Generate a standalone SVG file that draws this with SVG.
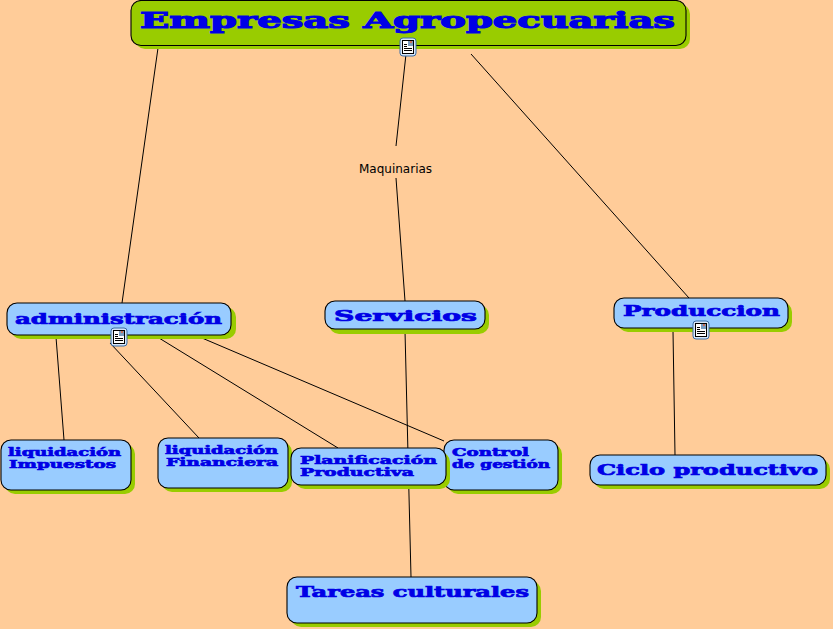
<svg xmlns="http://www.w3.org/2000/svg" width="833" height="629" viewBox="0 0 833 629">
<style>
.s{fill:#99cc00}
.b{fill:#99ccff;stroke:#000;stroke-width:1.1}
.t{fill:#0000e6;font-family:"DejaVu Serif",serif;font-weight:bold;stroke:#0000e6;stroke-width:.7}
.m{font-size:10.200px;stroke-width:.6}
.c{fill:none;stroke:#000;stroke-width:1}
.l{font-family:"DejaVu Sans",sans-serif;font-size:12px;fill:#000}
</style>
<defs>
<g id="icon">
<rect x="0" y="0" width="16" height="18" rx="3" fill="#d6e6f8" stroke="#3b6ea8"/>
<rect x="2.500" y="2.500" width="11" height="13" fill="#fff" stroke="#000"/>
<path d="M4 6.500h3M4 8.500h3M4 10.500h8M4 12.500h8" stroke="#000" stroke-width="1" fill="none"/>
<rect x="8" y="3" width="5" height="5" fill="#7a9cc0"/>
<rect x="10" y="3" width="2" height="2" fill="#c9705a"/>
</g>
</defs>
<rect width="833" height="629" fill="#ffcc99"/>
<g id="connectors">
<path class="c" d="M158 48L122 303"/>
<path class="c" d="M406 54L396 146"/>
<path class="c" d="M396 178L405 301"/>
<path class="c" d="M471 54L689 298"/>
<path class="c" d="M56 337L64 440"/>
<path class="c" d="M110 343L199 438"/>
<path class="c" d="M159 338L338 448"/>
<path class="c" d="M202 338L444 441"/>
<path class="c" d="M405 331L411 577"/>
<path class="c" d="M673 331L675 455"/>
</g>
<g id="node-empresas">
<rect class="s" x="135" y="4" width="555" height="45" rx="10"/>
<rect class="b" style="fill:#99cc00" x="131" y="0.500" width="555" height="45" rx="10"/>
<text class="t" x="140" y="28" font-size="22" stroke-width="1" style="stroke-width:1.100px" textLength="535" lengthAdjust="spacingAndGlyphs">Empresas Agropecuarias</text>
<use href="#icon" x="400" y="38"/>
</g>
<g id="node-maquinarias">
<text class="l" x="359" y="173">Maquinarias</text>
</g>
<g id="node-administracion">
<rect class="s" x="11" y="307" width="225" height="32" rx="10"/>
<rect class="b" x="7" y="303" width="224" height="32" rx="10"/>
<text class="t" x="15" y="324" font-size="15" textLength="207" lengthAdjust="spacingAndGlyphs">administración</text>
<use href="#icon" x="111" y="328"/>
</g>
<g id="node-servicios">
<rect class="s" x="329" y="305" width="160" height="29" rx="10"/>
<rect class="b" x="325" y="301" width="160" height="28" rx="10"/>
<text class="t" x="334" y="321" font-size="15" textLength="143" lengthAdjust="spacingAndGlyphs">Servicios</text>
</g>
<g id="node-produccion">
<rect class="s" x="618" y="302" width="174" height="30" rx="10"/>
<rect class="b" x="614" y="298" width="174" height="30" rx="10"/>
<text class="t" x="623" y="316" font-size="15" textLength="157" lengthAdjust="spacingAndGlyphs">Produccion</text>
<use href="#icon" x="693" y="321"/>
</g>
<g id="node-impuestos">
<rect class="s" x="5" y="444" width="130" height="50" rx="10"/>
<rect class="b" x="1" y="440" width="130" height="50" rx="10"/>
<text class="t m" x="8" y="456" textLength="113" lengthAdjust="spacingAndGlyphs">liquidación</text>
<text class="t m" x="9" y="468" textLength="107" lengthAdjust="spacingAndGlyphs">Impuestos</text>
</g>
<g id="node-financiera">
<rect class="s" x="162" y="442" width="130" height="50" rx="10"/>
<rect class="b" x="158" y="438" width="130" height="50" rx="10"/>
<text class="t m" x="165" y="454" textLength="113" lengthAdjust="spacingAndGlyphs">liquidación</text>
<text class="t m" x="166" y="466" textLength="112" lengthAdjust="spacingAndGlyphs">Financiera</text>
</g>
<g id="node-control">
<rect class="s" x="448" y="444" width="114" height="50" rx="10"/>
<rect class="b" x="444" y="440" width="114" height="50" rx="10"/>
<text class="t m" x="452" y="456" textLength="77" lengthAdjust="spacingAndGlyphs">Control</text>
<text class="t m" x="452" y="468" textLength="98" lengthAdjust="spacingAndGlyphs">de gestión</text>
</g>
<g id="node-planificacion">
<rect class="s" x="295" y="452" width="155" height="37" rx="10"/>
<rect class="b" x="291" y="448" width="155" height="37" rx="10"/>
<text class="t m" x="300" y="464" textLength="137" lengthAdjust="spacingAndGlyphs">Planificación</text>
<text class="t m" x="300" y="476" textLength="114" lengthAdjust="spacingAndGlyphs">Productiva</text>
</g>
<g id="node-ciclo">
<rect class="s" x="594" y="459" width="236" height="30" rx="10"/>
<rect class="b" x="590" y="455" width="236" height="30" rx="10"/>
<text class="t" x="597" y="475" font-size="15" textLength="221" lengthAdjust="spacingAndGlyphs">Ciclo productivo</text>
</g>
<g id="node-tareas">
<rect class="s" x="291" y="581" width="250" height="46" rx="10"/>
<rect class="b" x="287" y="577" width="250" height="46" rx="10"/>
<text class="t" x="296" y="597" font-size="15" textLength="233" lengthAdjust="spacingAndGlyphs">Tareas culturales</text>
</g>
</svg>
